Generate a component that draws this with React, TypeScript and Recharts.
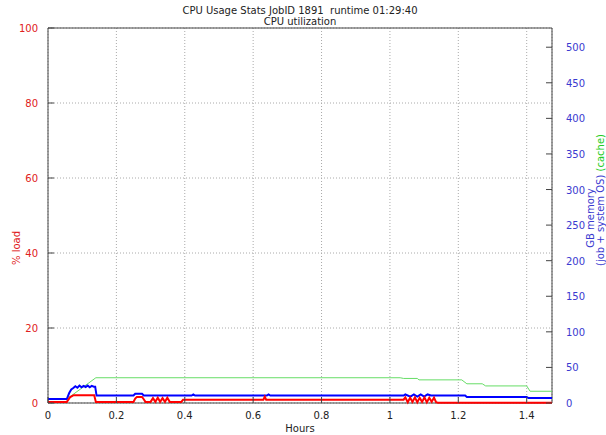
import { ComposedChart, Line, XAxis, YAxis, CartesianGrid, ReferenceArea } from "recharts";

// axis ticks
const hourTicks = [0, 0.2, 0.4, 0.6, 0.8, 1, 1.2, 1.4];
const loadTicks = [0, 20, 40, 60, 80, 100];
const memTicks = [0, 50, 100, 150, 200, 250, 300, 350, 400, 450, 500];

// % load (left axis)
const loadHours = [
  0, 0.055, 0.065, 0.075, 0.135, 0.14,
  0.25, 0.255, 0.26, 0.275, 0.28, 0.285,
  0.3, 0.307, 0.314, 0.321, 0.328, 0.335, 0.342, 0.349, 0.356, 0.36,
  0.39, 0.395, 0.63, 0.634, 0.638, 1.04,
  1.045, 1.052, 1.059, 1.066, 1.073, 1.08, 1.087, 1.094, 1.101, 1.108, 1.115, 1.122, 1.129, 1.135,
  1.14, 1.474,
];
const loadValues = [
  0.3, 0.3, 1.6, 2.1, 2.1, 0.3,
  0.3, 1.2, 1.6, 1.6, 1.0, 0.3,
  0.3, 1.3, 0.3, 1.4, 0.3, 1.3, 0.3, 1.4, 0.3, 0.3,
  0.3, 0.9, 0.9, 1.7, 0.9, 0.9,
  1.5, 0.2, 1.4, 0.3, 1.5, 0.2, 1.4, 0.3, 1.5, 0.2, 1.4, 0.3, 1.4, 0.2,
  0.1, 0.1,
];

// GB memory, job + system OS (right axis)
const memHours = [
  0, 0.055, 0.062, 0.068, 0.074, 0.08, 0.086, 0.092, 0.098, 0.104, 0.11, 0.116, 0.122, 0.128, 0.134, 0.138, 0.142,
  0.25, 0.255, 0.275, 0.28, 0.29, 0.42, 0.425, 0.43, 0.64, 0.645, 0.65, 1.04, 1.045, 1.06, 1.07, 1.08, 1.09, 1.1, 1.11, 1.12,
  1.22, 1.225, 1.4, 1.405, 1.474,
];
const memValues = [
  5.5, 5.5, 14, 19, 21, 23.5, 21.5, 24.5, 22, 24, 22.5, 24.5, 22, 24, 23, 23, 10.5,
  10.5, 13, 13, 10.5, 10.5, 10.5, 12, 10.5, 10.5, 12, 10.5, 10.5, 12, 9, 12, 9, 12, 9, 12, 10.5,
  10.5, 8.5, 8.5, 7, 7,
];

// GB memory, cache (right axis)
const cacheHours = [0, 0.055, 0.14, 1.03, 1.04, 1.08, 1.085, 1.21, 1.225, 1.27, 1.28, 1.4, 1.41, 1.474];
const cacheValues = [5.5, 5.5, 35.5, 35.5, 34.5, 34.5, 32.5, 32.5, 27, 27, 24, 24, 16.5, 16.5];

const HOURS_MAX = 1.474;
const MEM_MAX = 527;

const PLOT_LEFT = 48;
const PLOT_RIGHT = 552;
const PLOT_TOP = 28;
const PLOT_BOTTOM = 403;

const FONT = "DejaVu Sans, sans-serif";
const AXIS = "#444";
const RED = "#ff0000";
const BLUE = "#0000ff";
const GREEN = "#66dd66";
const LABEL_RED = "#e02020";
const LABEL_BLUE = "#3a3ad0";

const toPoints = (hours: number[], values: number[]) => hours.map((h, i) => ({ h, v: values[i] }));

const fmtHour = (v: number) => String(Math.round(v * 10) / 10);

function BottomTick({ x, payload }: any) {
  return (
    <g>
      <line x1={x} x2={x} y1={PLOT_BOTTOM} y2={PLOT_BOTTOM - 6} stroke={AXIS} />
      <text x={x} y={PLOT_BOTTOM + 16} textAnchor="middle" fill="#222" fontSize={10} fontFamily={FONT}>
        {fmtHour(payload.value)}
      </text>
    </g>
  );
}

function TopTick({ x }: any) {
  return <line x1={x} x2={x} y1={PLOT_TOP} y2={PLOT_TOP + 6} stroke={AXIS} />;
}

function LeftTick({ y, payload }: any) {
  return (
    <g>
      <line x1={PLOT_LEFT} x2={PLOT_LEFT + 6} y1={y} y2={y} stroke={AXIS} />
      <text x={38} y={y + 4} textAnchor="end" fill={LABEL_RED} fontSize={10} fontFamily={FONT}>
        {payload.value}
      </text>
    </g>
  );
}

function RightTick({ y, payload }: any) {
  return (
    <g>
      <line x1={PLOT_RIGHT} x2={PLOT_RIGHT - 6} y1={y} y2={y} stroke={AXIS} />
      <text x={566} y={y + 4} textAnchor="start" fill={LABEL_BLUE} fontSize={10} fontFamily={FONT}>
        {payload.value}
      </text>
    </g>
  );
}

export default function App() {
  const loadData = toPoints(loadHours, loadValues);
  const memData = toPoints(memHours, memValues);
  const cacheData = toPoints(cacheHours, cacheValues);

  return (
    <div style={{ position: "absolute", left: 0, top: 0, width: 606, height: 435, background: "#fff" }}>
      <ComposedChart width={606} height={435} margin={{ top: PLOT_TOP, right: 0, bottom: 0, left: 0 }}>
        <CartesianGrid
          yAxisId="left"
          stroke="#aaa"
          strokeDasharray="1 2"
          verticalPoints={undefined}
        />
        <XAxis
          dataKey="h"
          type="number"
          domain={[0, HOURS_MAX]}
          ticks={hourTicks}
          allowDataOverflow
          height={PLOT_BOTTOM === 403 ? 32 : 32}
          axisLine={false}
          tickLine={false}
          tick={<BottomTick />}
        />
        <XAxis
          xAxisId="top"
          orientation="top"
          dataKey="h"
          type="number"
          domain={[0, HOURS_MAX]}
          ticks={hourTicks}
          allowDataOverflow
          height={0}
          axisLine={false}
          tickLine={false}
          tick={<TopTick />}
        />
        <YAxis
          yAxisId="left"
          type="number"
          domain={[0, 100]}
          ticks={loadTicks}
          width={PLOT_LEFT}
          axisLine={false}
          tickLine={false}
          tick={<LeftTick />}
        />
        <YAxis
          yAxisId="right"
          orientation="right"
          type="number"
          domain={[0, MEM_MAX]}
          ticks={memTicks}
          allowDataOverflow
          width={606 - PLOT_RIGHT}
          axisLine={false}
          tickLine={false}
          tick={<RightTick />}
        />
        <ReferenceArea
          yAxisId="left"
          x1={0}
          x2={HOURS_MAX}
          y1={0}
          y2={100}
          fill="none"
          stroke={AXIS}
          strokeWidth={1}
          ifOverflow="visible"
        />
        <Line
          yAxisId="right"
          data={cacheData}
          dataKey="v"
          type="linear"
          stroke={GREEN}
          strokeWidth={1}
          dot={false}
          isAnimationActive={false}
        />
        <Line
          yAxisId="right"
          data={memData}
          dataKey="v"
          type="linear"
          stroke={BLUE}
          strokeWidth={2}
          dot={false}
          isAnimationActive={false}
        />
        <Line
          yAxisId="left"
          data={loadData}
          dataKey="v"
          type="linear"
          stroke={RED}
          strokeWidth={2}
          dot={false}
          isAnimationActive={false}
        />
      </ComposedChart>
      <svg
        width={606}
        height={435}
        style={{ position: "absolute", left: 0, top: 0, pointerEvents: "none" }}
        fontFamily={FONT}
        fontSize={10}
      >
        <text x={300} y={14} textAnchor="middle" fill="#222">
          CPU Usage Stats JobID 1891{"\u00a0\u00a0"}runtime 01:29:40
        </text>
        <text x={300} y={25} textAnchor="middle" fill="#222">
          CPU utilization
        </text>
        <text x={(PLOT_LEFT + PLOT_RIGHT) / 2} y={432} textAnchor="middle" fill="#222">
          Hours
        </text>
        <text transform="translate(20,248) rotate(-90)" textAnchor="middle" fill={LABEL_RED}>
          % load
        </text>
        <text transform="translate(594,218) rotate(-90)" textAnchor="middle" fill={LABEL_BLUE}>
          GB memory
        </text>
        <text transform="translate(604,200) rotate(-90)" textAnchor="middle">
          <tspan fill={LABEL_BLUE}>(job + system OS) </tspan>
          <tspan fill="#22cc22">(cache)</tspan>
        </text>
      </svg>
    </div>
  );
}
